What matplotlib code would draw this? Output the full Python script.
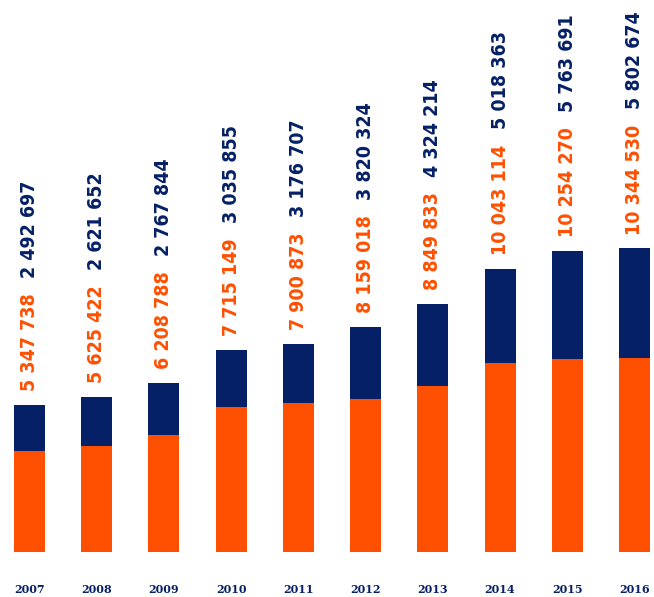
import matplotlib.pyplot as plt

years = ['2007', '2008', '2009', '2010', '2011', '2012', '2013', '2014', '2015', '2016']
lower = [5347738, 5625422, 6208788, 7715149, 7900873, 8159018, 8849833, 10043114, 10254270, 10344530]
upper = [2492697, 2621652, 2767844, 3035855, 3176707, 3820324, 4324214, 5018363, 5763691, 5802674]

orange = '#FF4F00'
navy = '#052066'

def fmt(v):
    return f'{v:,}'.replace(',', ' ')

fig = plt.figure(figsize=(6.54, 5.97), dpi=100)
ax = fig.add_axes([0, 45 / 597, 1, 552 / 597])

x = range(len(years))
ax.bar(x, lower, width=0.46, color=orange)
ax.bar(x, upper, bottom=lower, width=0.46, color=navy)

lbl = dict(rotation=90, ha='center', va='bottom', fontsize=14, fontweight='bold',
           family='DejaVu Sans', fontstretch='condensed', textcoords='offset points')
for i in x:
    top = lower[i] + upper[i]
    t = ax.annotate(fmt(lower[i]), xy=(i, top), xytext=(0, 10), color=orange, **lbl)
    ax.annotate(fmt(upper[i]), xy=(0.5, 1), xycoords=t, xytext=(0, 11), color=navy, **lbl)

ax.set_xlim(-0.439, 9.29)
ax.set_ylim(0, 552 / 18.8 * 1e6)
ax.set_xticks(list(x))
ax.set_xticklabels(years, family='DejaVu Serif', fontweight='bold', fontsize=8, color=navy)
ax.tick_params(axis='x', length=0, pad=23)
ax.set_yticks([])
for s in ax.spines.values():
    s.set_visible(False)

fig.savefig('out.png', dpi=100)
